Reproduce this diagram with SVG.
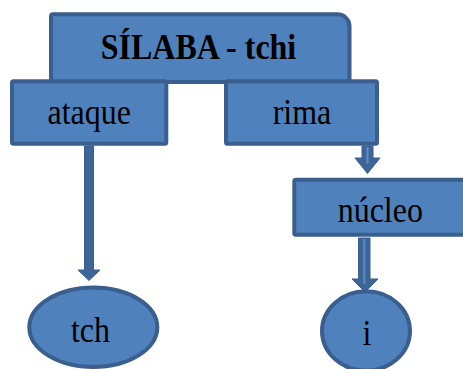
<svg xmlns="http://www.w3.org/2000/svg" width="463" height="369" viewBox="0 0 463 369">
<style>
.box{fill:#4f81bd;stroke:#3a5f8f;stroke-width:4;stroke-linejoin:round}
.arr{fill:#3d6598;stroke:#3a5f8f;stroke-width:1}
.hl{stroke:#5f8cc2;stroke-width:2;fill:none}
text{font-family:"Liberation Serif","Times New Roman",serif;font-size:32px;fill:#000;text-anchor:middle}
.b{font-weight:bold}
</style>
<rect width="463" height="369" fill="#fff"/>
<g id="connectors">
<polygon class="arr" points="84.5,146 93.5,146 93.5,270 100,270 89,280.5 78,270 84.5,270"/>
<polygon class="arr" points="362,146 373,146 373,158 380,158 367.5,173.5 355,158 362,158"/>
<line class="hl" x1="367.5" y1="147" x2="367.5" y2="164"/>
<polygon class="arr" points="358.5,238 370,238 370,279 378,279 365,292 352,279 358.5,279"/>
<line class="hl" x1="364.3" y1="239" x2="364.3" y2="284"/>
</g>
<g id="silaba">
<path class="box" d="M51,82 V16.5 Q51,14.3 53.2,14.3 H337.5 A12,12 0 0 1 349.5,26.3 V82 Z"/>
<text class="b" transform="translate(198.5,59) scale(1,1.1)">SÍLABA - tchi</text>
</g>
<g id="ataque">
<rect class="box" x="12" y="81.3" width="154.3" height="62.4" rx="1.5"/>
<text transform="translate(89.2,124) scale(1,1.12)">ataque</text>
</g>
<g id="rima">
<rect class="box" x="226" y="81.3" width="151" height="62.4" rx="1.5"/>
<text transform="translate(302,124) scale(1,1.12)">rima</text>
</g>
<g id="nucleo">
<rect class="box" x="294.3" y="179.7" width="172" height="55" rx="1.5"/>
<text transform="translate(380.3,222) scale(1,1.12)">núcleo</text>
</g>
<g id="tch">
<ellipse class="box" cx="93.3" cy="327.3" rx="64" ry="39.7"/>
<text transform="translate(90.5,341.5) scale(1,1.12)">tch</text>
</g>
<g id="i">
<ellipse class="box" cx="366" cy="331" rx="44" ry="39.7"/>
<text transform="translate(367,345) scale(1,1.12)">i</text>
</g>
</svg>
